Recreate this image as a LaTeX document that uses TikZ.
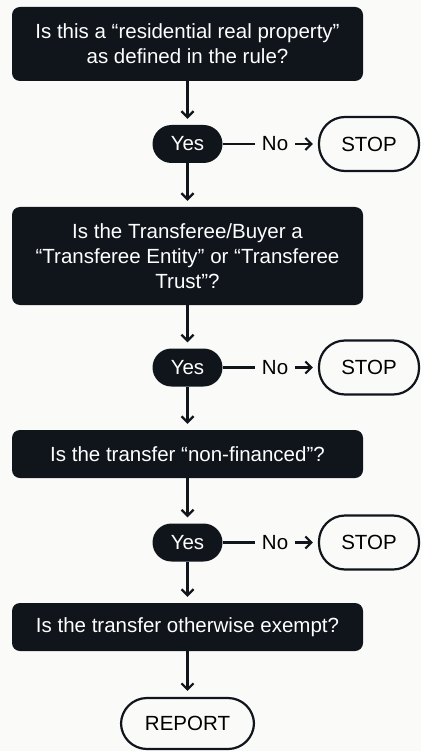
\documentclass[tikz,border=0pt]{standalone}
\usepackage{fontspec}
\setmainfont{Liberation Sans}
\usetikzlibrary{arrows.meta}

\definecolor{ink}{RGB}{16,21,28}
\definecolor{paper}{RGB}{250,250,248}

\begin{document}
\begin{tikzpicture}[%
  x=1pt, y=-1pt,
  >={Straight Barb[length=6pt,width=12pt]},
  every node/.style={font=\fontsize{20.5}{25}\selectfont},
  question/.style={fill=ink, text=white, rounded corners=8pt,
    minimum width=351pt, align=center, inner sep=0pt},
  answer/.style={fill=ink, text=white, rounded corners=19pt,
    minimum width=70pt, minimum height=38pt, inner sep=0pt},
  halt/.style={draw=ink, line width=2.2pt, fill=paper, rounded corners=26pt,
    minimum width=100pt, minimum height=54pt, inner sep=0pt},
  flow/.style={->, line width=2.2pt, draw=ink},
]

  \path[use as bounding box, fill=paper] (0,0) rectangle (421,751);

  \node[question, minimum height=74pt] (box1) at (187.5,44)
    {Is this a “residential real property”\\as defined in the rule?};
  \node[answer] (yes1) at (187.5,144) {Yes};
  \node[halt] (stop1) at (369,144) {STOP};

  \node[question, minimum height=98pt] (box2) at (187.5,256)
    {Is the Transferee/Buyer a\\“Transferee Entity” or “Transferee\\Trust”?};
  \node[answer] (yes2) at (187.5,367.5) {Yes};
  \node[halt] (stop2) at (369,367.5) {STOP};

  \node[question, minimum height=48pt] (box3) at (187.5,454)
    {Is the transfer “non-financed”?};
  \node[answer] (yes3) at (187.5,542.5) {Yes};
  \node[halt] (stop3) at (369,542.5) {STOP};

  \node[question, minimum height=48pt] (box4) at (187.5,627)
    {Is the transfer otherwise exempt?};
  \node[halt, minimum width=133pt, minimum height=51pt] (report) at (187.5,723.5) {REPORT};

  \draw[flow, shorten >=6pt] (box1) -- (yes1);
  \draw[flow, shorten >=6pt] (yes1) -- (box2);
  \draw[flow, shorten >=6pt] (box2) -- (yes2);
  \draw[flow, shorten >=6pt] (yes2) -- (box3);
  \draw[flow, shorten >=6pt] (box3) -- (yes3);
  \draw[flow, shorten >=6pt] (yes3) -- (box4);
  \draw[flow, shorten >=6pt] (box4) -- (report);

  \draw[flow, shorten >=5pt] (yes1) -- node[pos=0.55, fill=paper, inner xsep=7pt] {No} (stop1);
  \draw[flow, shorten >=5pt] (yes2) -- node[pos=0.55, fill=paper, inner xsep=7pt] {No} (stop2);
  \draw[flow, shorten >=5pt] (yes3) -- node[pos=0.55, fill=paper, inner xsep=7pt] {No} (stop3);

\end{tikzpicture}
\end{document}
